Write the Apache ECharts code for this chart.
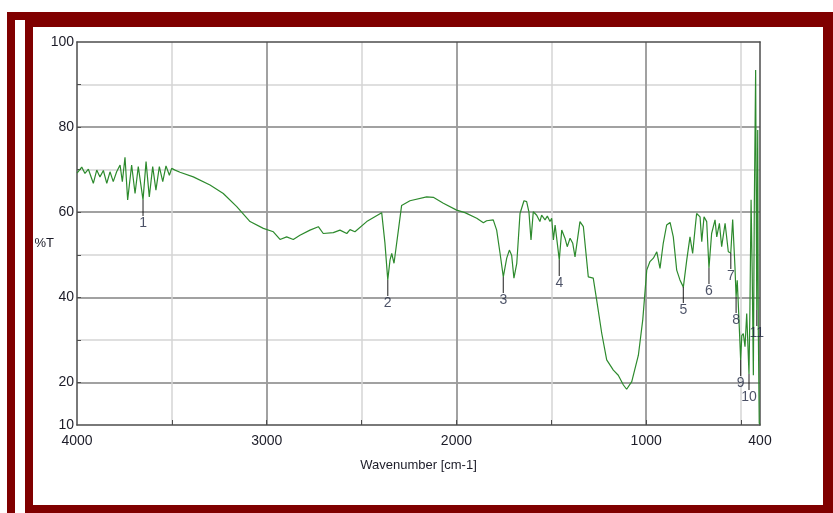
<!DOCTYPE html>
<html>
<head>
<meta charset="utf-8">
<script src="https://cdn.jsdelivr.net/npm/echarts@6/dist/echarts.min.js"></script>
<style>
html,body{margin:0;padding:0;background:#fff;}
#chart{width:833px;height:513px;}
</style>
</head>
<body>
<div id="chart"></div>
<script>
// IR spectrum
const wavenumber = [
  4000, 3975, 3958, 3940, 3914, 3896, 3879, 3861, 3843, 3826, 3809, 3791, 3773, 3761, 3747, 3733,
  3712, 3694, 3677, 3652, 3636, 3619, 3601, 3584, 3566, 3548, 3531, 3513, 3501, 3483, 3457, 3387,
  3299, 3229, 3158, 3088, 3018, 2965, 2930, 2895, 2860, 2825, 2772, 2728, 2702, 2649, 2614, 2578,
  2561, 2535, 2473, 2394, 2386, 2377, 2362, 2350, 2341, 2329, 2306, 2289, 2245, 2157, 2122, 2069,
  1999, 1955, 1893, 1858, 1841, 1806, 1788, 1770, 1753, 1735, 1721, 1709, 1697, 1682, 1665, 1644,
  1630, 1618, 1607, 1595, 1577, 1560, 1551, 1533, 1521, 1507, 1498, 1489, 1480, 1458, 1445, 1428,
  1416, 1401, 1387, 1375, 1349, 1331, 1305, 1279, 1261, 1234, 1208, 1173, 1147, 1120, 1103, 1076,
  1041, 1018, 997, 980, 962, 944, 927, 910, 892, 874, 857, 839, 822, 804, 786, 769,
  755, 743, 734, 716, 707, 695, 681, 669, 655, 637, 628, 614, 602, 584, 567, 554,
  544, 532, 526, 520, 512, 502, 496, 488, 479, 470, 458, 453, 447, 441, 435, 430,
  423, 419, 417, 412, 409, 404, 400
];
const transmittance = [
  69.2, 70.6, 69.1, 70.1, 66.8, 69.9, 68.3, 69.8, 66.8, 69.5, 67.2, 69.5, 71.1, 67.2, 72.9, 62.9,
  71.1, 64.4, 70.7, 62.9, 71.9, 63.6, 70.7, 65.2, 70.7, 67.2, 70.9, 68.7, 70.3, 69.9, 69.4, 68.3,
  66.4, 64.4, 61.3, 57.8, 56.2, 55.4, 53.6, 54.2, 53.6, 54.6, 55.8, 56.6, 55.0, 55.2, 55.8, 55.0,
  55.9, 55.4, 57.8, 59.9, 59.7, 52.8, 44.1, 48.8, 50.3, 48.0, 55.8, 61.6, 62.7, 63.6, 63.5, 62.1,
  60.5, 59.9, 58.6, 57.5, 58.0, 58.2, 55.8, 50.3, 44.8, 49.2, 51.1, 49.9, 44.5, 48.0, 59.7, 62.7,
  62.5, 60.1, 53.5, 60.1, 59.3, 57.8, 59.3, 58.2, 59.1, 57.8, 58.6, 53.5, 57.0, 48.8, 55.8, 53.9,
  51.9, 53.9, 52.7, 49.5, 57.8, 56.6, 44.8, 44.5, 39.4, 31.5, 25.3, 22.9, 21.7, 19.4, 18.4, 20.2,
  26.4, 34.7, 46.4, 48.4, 49.2, 50.7, 46.8, 52.7, 57.0, 57.6, 54.2, 46.4, 44.1, 42.4, 48.8, 54.2,
  50.3, 55.8, 59.7, 58.9, 53.1, 58.9, 57.8, 46.9, 55.0, 58.2, 54.2, 57.4, 51.9, 57.4, 50.7, 50.4,
  58.3, 47.2, 40.1, 44.0, 36.0, 25.3, 31.0, 31.5, 28.4, 36.2, 22.0, 37.8, 62.9, 45.6, 21.7, 61.3,
  93.4, 55.0, 37.0, 79.3, 33.1, 10.4, 10.2
];

// numbered peaks
const peakNames = ['1', '2', '3', '4', '5', '6', '7', '8', '9', '10', '11'];
const peakWavenumber = [3652, 2362, 1753, 1458, 804, 669, 554, 526, 502, 458, 417];
const peakT = [62.9, 44.1, 44.8, 48.8, 42.4, 46.9, 50.4, 40.1, 25.3, 22.0, 37.0];

const xLabels = [4000, 3000, 2000, 1000, 400];
const xTicks = [500, 1000, 1500, 2000, 2500, 3000, 3500];
const xMajor = [1000, 2000, 3000];
const yLabels = [10, 20, 40, 60, 80, 100];
const yTicks = [20, 30, 40, 50, 60, 70, 80, 90];
const yMajor = [20, 40, 60, 80];

const FONT = "'Liberation Sans Narrow', 'Liberation Sans', Arial, sans-serif";
const RED = '#800000';
const DARK = '#4d4d4d';
const TEXT = '#1c1c28';

const spectrum = wavenumber.map((w, i) => [w, transmittance[i]]);
const peaks = peakNames.map((n, i) => ({ name: n, value: [peakWavenumber[i], peakT[i]] }));

const chart = echarts.init(document.getElementById('chart'));
chart.setOption({
  animation: false,
  backgroundColor: '#fff',
  grid: { left: 77, right: 73, top: 42, bottom: 88 },
  graphic: [
    { type: 'rect', shape: { x: 7, y: 12, width: 826, height: 15 }, style: { fill: RED } },
    { type: 'rect', shape: { x: 7, y: 12, width: 8, height: 501 }, style: { fill: RED } },
    { type: 'rect', shape: { x: 15, y: 20, width: 10, height: 493 }, style: { fill: '#fff' } },
    { type: 'rect', shape: { x: 25, y: 27, width: 8, height: 486 }, style: { fill: RED } },
    { type: 'rect', shape: { x: 25, y: 505, width: 808, height: 8 }, style: { fill: RED } },
    { type: 'rect', shape: { x: 823, y: 12, width: 10, height: 501 }, style: { fill: RED } },
    { type: 'text', x: 54, y: 243,
      style: { text: '%T', font: '13px ' + FONT, fill: TEXT, textAlign: 'right', textVerticalAlign: 'middle' } }
  ],
  xAxis: [
    {
      type: 'value', min: 400, max: 4000, inverse: true, position: 'bottom',
      axisLine: { show: true, lineStyle: { color: DARK, width: 1.5 } },
      axisTick: { show: true, inside: true, length: 5, customValues: xTicks, lineStyle: { color: DARK } },
      axisLabel: { customValues: xLabels, margin: 9, fontSize: 14, fontFamily: FONT, color: TEXT,
        formatter: v => String(v) },
      splitLine: { show: true, lineStyle: { color: '#d4d4d4', width: 1.5 } },
      name: 'Wavenumber [cm-1]', nameLocation: 'middle', nameGap: 34,
      nameTextStyle: { fontSize: 13, fontFamily: FONT, color: TEXT }
    },
    {
      type: 'value', min: 400, max: 4000, inverse: true, position: 'top',
      axisLine: { show: true, lineStyle: { color: DARK, width: 1.5 } },
      axisTick: { show: false, customValues: xMajor },
      axisLabel: { show: false },
      splitLine: { show: true, lineStyle: { color: '#8c8c8c', width: 1.5 } }
    }
  ],
  yAxis: [
    {
      type: 'value', min: 10, max: 100, position: 'left',
      axisLine: { show: true, lineStyle: { color: DARK, width: 1.5 } },
      axisTick: { show: true, inside: true, length: 4, customValues: yTicks, lineStyle: { color: DARK } },
      axisLabel: { customValues: yLabels, margin: 3, fontSize: 14, fontFamily: FONT, color: TEXT },
      splitLine: { show: true, lineStyle: { color: '#d4d4d4', width: 1.5 } }
    },
    {
      type: 'value', min: 10, max: 100, position: 'right',
      axisLine: { show: true, lineStyle: { color: DARK, width: 1.5 } },
      axisTick: { show: false, customValues: yMajor },
      axisLabel: { show: false },
      splitLine: { show: true, lineStyle: { color: '#8c8c8c', width: 1.5 } }
    }
  ],
  series: [
    {
      type: 'line', data: spectrum, xAxisIndex: 0, yAxisIndex: 0,
      showSymbol: false, symbol: 'none', z: 3,
      lineStyle: { color: '#2d8a2d', width: 1.2 }
    },
    {
      type: 'scatter', data: peaks, xAxisIndex: 0, yAxisIndex: 0, z: 4,
      symbol: 'rect', symbolSize: [1.2, 16], symbolOffset: [0, 8],
      itemStyle: { color: '#111' },
      label: {
        show: true, position: 'bottom', distance: 0, formatter: '{b}',
        fontSize: 14, fontFamily: FONT, color: '#1e2640'
      }
    }
  ]
});
</script>
</body>
</html>
